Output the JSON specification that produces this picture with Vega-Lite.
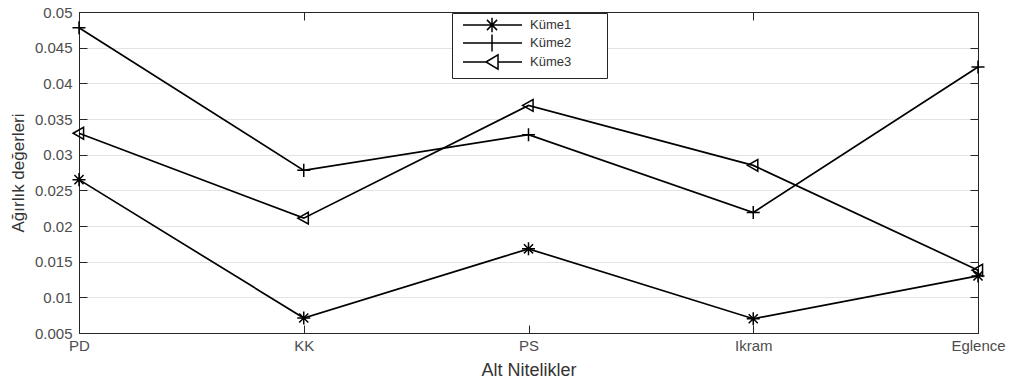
{
  "$schema": "https://vega.github.io/schema/vega-lite/v6.json",
  "width": 899,
  "height": 321,
  "autosize": {"type": "none"},
  "padding": {"left": 79, "top": 12, "right": 33, "bottom": 54},
  "background": "white",
  "data": {
    "values": [
      {"kriter": "PD", "kume": "Küme1", "deger": 0.0265},
      {"kriter": "KK", "kume": "Küme1", "deger": 0.0071},
      {"kriter": "PS", "kume": "Küme1", "deger": 0.0168},
      {"kriter": "Ikram", "kume": "Küme1", "deger": 0.0070},
      {"kriter": "Eglence", "kume": "Küme1", "deger": 0.0130},
      {"kriter": "PD", "kume": "Küme2", "deger": 0.0478},
      {"kriter": "KK", "kume": "Küme2", "deger": 0.0278},
      {"kriter": "PS", "kume": "Küme2", "deger": 0.0328},
      {"kriter": "Ikram", "kume": "Küme2", "deger": 0.0219},
      {"kriter": "Eglence", "kume": "Küme2", "deger": 0.0423},
      {"kriter": "PD", "kume": "Küme3", "deger": 0.0330},
      {"kriter": "KK", "kume": "Küme3", "deger": 0.0211},
      {"kriter": "PS", "kume": "Küme3", "deger": 0.0369},
      {"kriter": "Ikram", "kume": "Küme3", "deger": 0.0285},
      {"kriter": "Eglence", "kume": "Küme3", "deger": 0.0138}
    ]
  },
  "config": {
    "view": {"stroke": "#262626", "strokeWidth": 1},
    "axis": {
      "labelFont": "Liberation Sans",
      "labelFontSize": 15,
      "labelColor": "#4d4d4d",
      "titleFont": "Liberation Sans",
      "titleFontSize": 17,
      "titleFontWeight": "normal",
      "titleColor": "#333333",
      "domainColor": "#262626",
      "tickColor": "#262626",
      "tickSize": -8,
      "gridColor": "#e3e3e3"
    }
  },
  "layer": [
    {
      "mark": {"type": "line", "color": "black", "strokeWidth": 1.7},
      "encoding": {
        "x": {
          "field": "kriter", "type": "ordinal", "sort": null,
          "scale": {"type": "point", "padding": 0},
          "axis": {"title": "Alt Nitelikler", "titleFontSize": 18, "labelAngle": 0, "labelPadding": 13, "titlePadding": 8, "grid": false}
        },
        "y": {
          "field": "deger", "type": "quantitative",
          "scale": {"domain": [0.005, 0.05], "nice": false, "zero": false},
          "axis": {
            "title": "Ağırlık değerleri",
            "values": [0.005, 0.01, 0.015, 0.02, 0.025, 0.03, 0.035, 0.04, 0.045, 0.05],
            "format": "~g",
            "labelPadding": 15,
            "titlePadding": 7,
            "grid": true
          }
        },
        "detail": {"field": "kume"}
      }
    },
    {
      "mark": {"type": "point", "filled": false, "stroke": "black", "strokeWidth": 1.5, "opacity": 1},
      "encoding": {
        "x": {
          "field": "kriter", "type": "ordinal", "sort": null,
          "axis": {"orient": "top", "labels": false, "title": null, "grid": false}
        },
        "y": {
          "field": "deger", "type": "quantitative",
          "axis": {
            "orient": "right", "labels": false, "title": null, "grid": false,
            "values": [0.005, 0.01, 0.015, 0.02, 0.025, 0.03, 0.035, 0.04, 0.045, 0.05]
          }
        },
        "shape": {
          "field": "kume", "type": "nominal",
          "scale": {
            "domain": ["Küme1", "Küme2", "Küme3"],
            "range": [
              "M-1,0L1,0M0,-1L0,1M-0.7,-0.7L0.7,0.7M-0.7,0.7L0.7,-0.7",
              "M-1,0L1,0M0,-1L0,1",
              "M-0.9,0L0.7,-0.9L0.7,0.9Z"
            ]
          },
          "legend": null
        },
        "size": {"value": 170}
      }
    },
    {
      "transform": [{"filter": "false"}],
      "mark": {"type": "point", "filled": false, "stroke": "black", "strokeWidth": 1.5, "opacity": 1},
      "encoding": {
        "x": {"field": "kriter", "type": "ordinal", "sort": null, "axis": null},
        "y": {"field": "deger", "type": "quantitative", "axis": null},
        "shape": {
          "field": "kume", "type": "nominal",
          "scale": {
            "domain": ["Küme1", "Küme2", "Küme3"],
            "range": [
              "M-0.17,0L9.67,0M4.67,-1.2L4.67,1.2M3.82,-0.85L5.52,0.85M3.82,0.85L5.52,-0.85",
              "M-0.17,0L9.67,0M4.67,-1.4L4.67,1.4",
              "M-0.17,0L3.67,0M5.67,0L9.67,0M3.67,0L5.67,-1.2L5.67,1.2Z"
            ]
          },
          "legend": {
            "title": null,
            "orient": "none",
            "legendX": 373,
            "legendY": 1,
            "direction": "vertical",
            "fillColor": "white",
            "strokeColor": "#262626",
            "padding": 5,
            "rowPadding": -5,
            "symbolSize": 144,
            "symbolStrokeWidth": 1.5,
            "symbolStrokeColor": "black",
            "symbolFillColor": "transparent",
            "symbolOpacity": 1,
            "labelFont": "Liberation Sans",
            "labelFontSize": 13,
            "labelColor": "#333333",
            "labelOffset": 59,
            "labelExpr": "datum.label + '\u2800\u2800\u2800'"
          }
        }
      }
    }
  ],
  "resolve": {
    "axis": {"x": "independent", "y": "independent"},
    "scale": {"shape": "independent"}
  }
}
